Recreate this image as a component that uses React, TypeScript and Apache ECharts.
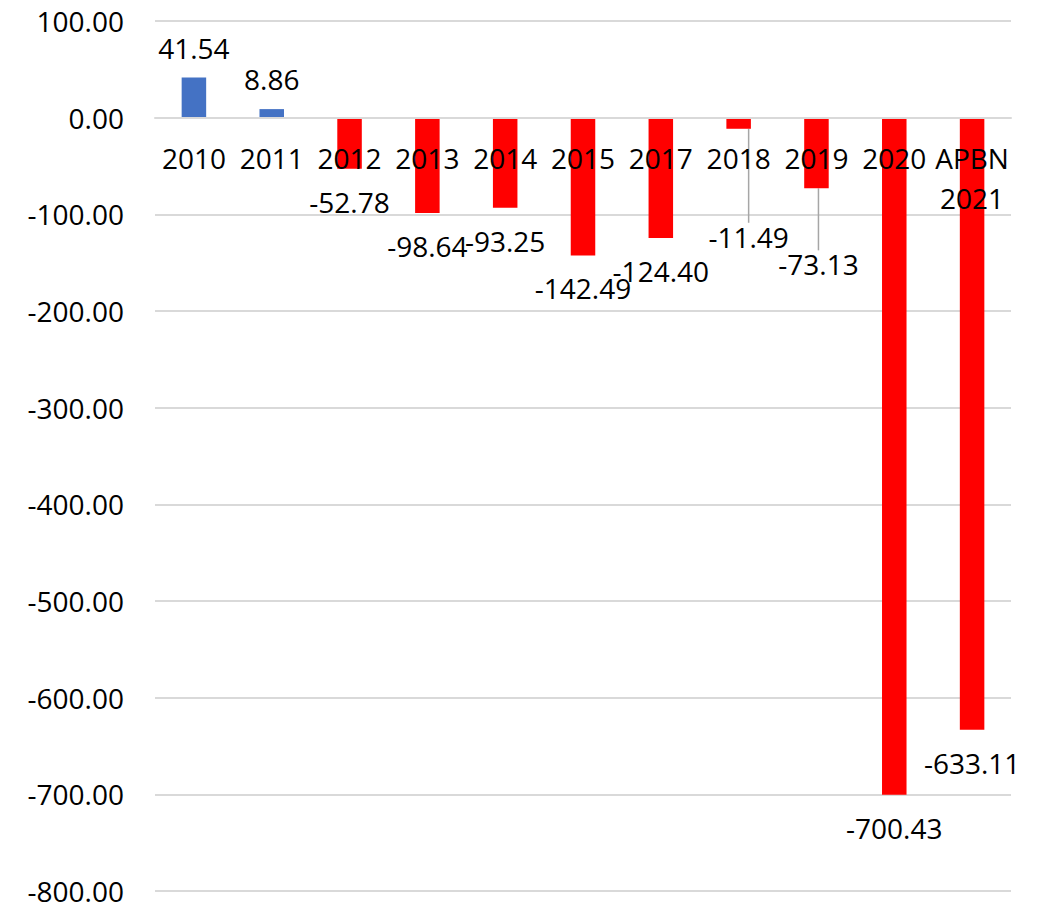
import React, { useEffect, useRef } from "react";
import * as echarts from "echarts";

const categories = ["2010", "2011", "2012", "2013", "2014", "2015", "2017", "2018", "2019", "2020", "APBN\n2021"];
const values = [41.54, 8.86, -52.78, -98.64, -93.25, -142.49, -124.4, -11.49, -73.13, -700.43, -633.11];
const yMin = -800;
const yMax = 100;
const yStep = 100;

const BLUE = "#4472C4";
const RED = "#FF0000";
const FONT = "Open Sans";

const GRID_TOP = 21;
const GRID_BOTTOM = 13;
const CHART_H = 904;

export default function App() {
  const ref = useRef<HTMLDivElement>(null);
  useEffect(() => {
    if (!ref.current) return;
    const chart = echarts.init(ref.current, null, { renderer: "svg" });
    const gridH = CHART_H - GRID_TOP - GRID_BOTTOM;
    const zeroOffset = -(gridH * (0 - yMin)) / (yMax - yMin);
    chart.setOption({
      animation: false,
      grid: { left: 155, right: 35, top: GRID_TOP, bottom: GRID_BOTTOM, containLabel: false, outerBoundsMode: "none" },
      xAxis: {
        type: "category",
        data: categories,
        offset: zeroOffset,
        axisLine: { onZero: false, lineStyle: { color: "#d9d9d9", width: 2 } },
        axisTick: { show: false },
        axisLabel: {
          interval: 0,
          margin: 20,
          color: "#000",
          fontFamily: FONT,
          fontSize: 28,
          lineHeight: 40,
        },
        z: 10,
      },
      yAxis: {
        type: "value",
        min: yMin,
        max: yMax,
        interval: yStep,
        axisLine: { show: false },
        axisTick: { show: false },
        splitLine: { lineStyle: { color: "#d9d9d9", width: 2 } },
        axisLabel: {
          margin: 31,
          color: "#000",
          fontFamily: FONT,
          fontSize: 28,
          formatter: (v: number) => v.toFixed(2),
        },
      },
      series: [
        {
          type: "bar",
          barWidth: "31.5%",
          z: 3,
          data: values.map((v, i) => ({
            value: v,
            itemStyle: { color: v >= 0 ? BLUE : RED },
            label: {
              show: true,
              position: v >= 0 ? "top" : "bottom",
              distance: v >= 0 ? 16 : 19,
            },
            labelLine: { show: i === 7 || i === 8 },
          })),
          label: {
            show: true,
            color: "#000",
            fontFamily: FONT,
            fontSize: 28,
            lineHeight: 28,
            formatter: (p: any) => Number(p.value).toFixed(2),
          },
          labelLine: { show: false, lineStyle: { color: "#a6a6a6", width: 1.5 } },
          labelLayout: (params: any) => {
            if (params.dataIndex === 7) return { dx: 10, dy: 75 };
            if (params.dataIndex === 8) return { dx: 2, dy: 43 };
            return {};
          },
        },
      ],
    });
    return () => chart.dispose();
  }, []);
  return (
    <div
      ref={ref}
      style={{ position: "fixed", left: 0, top: 0, width: 1046, height: 904, background: "#fff" }}
    />
  );
}
